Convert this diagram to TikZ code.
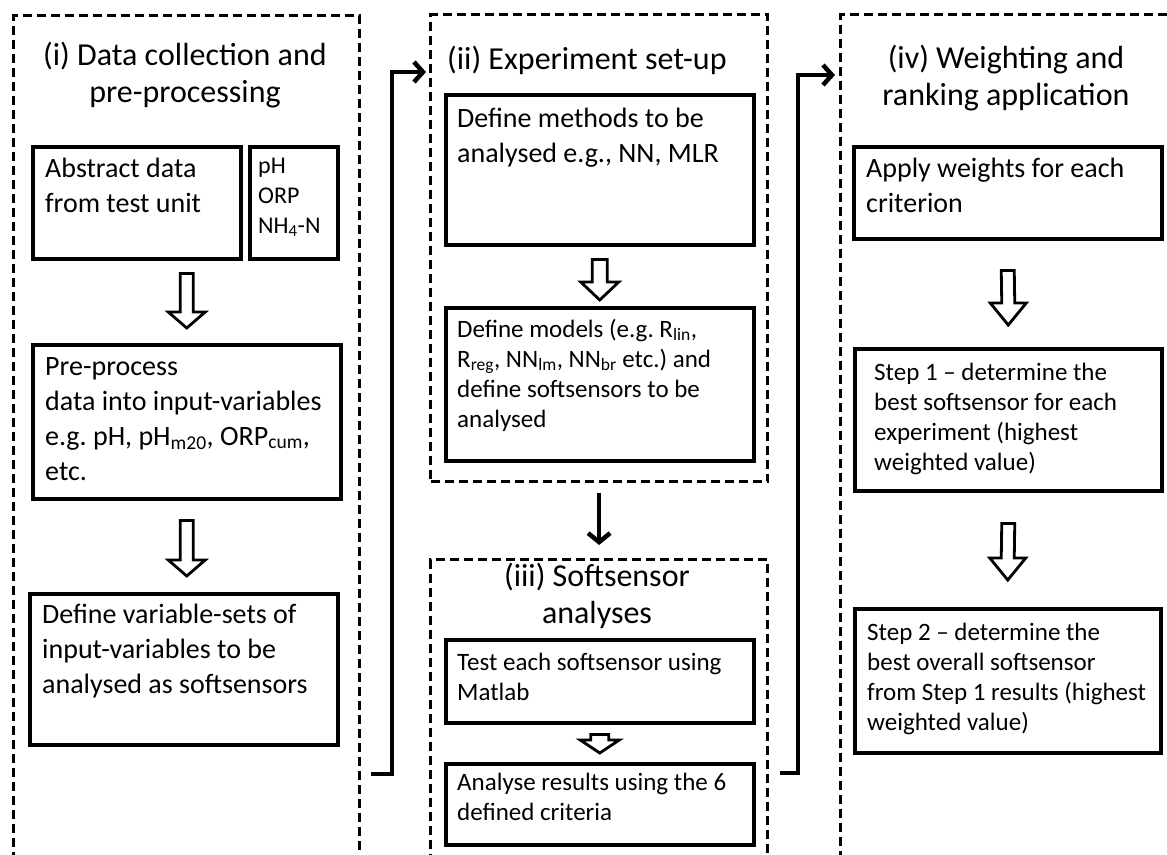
\documentclass[tikz,border=0pt]{standalone}
\usepackage{fontspec}
\setmainfont{Carlito}
\usetikzlibrary{arrows.meta,calc}
\frenchspacing
\newcommand\tl[1]{\parbox[t]{360pt}{\raggedright #1}}
\newcommand\tc[1]{\parbox[t]{360pt}{\centering #1}}
\newcommand\sub[1]{\textsubscript{#1}}
% hollow block arrow: #1 top centre, #2 tip, #3 half shaft, #4 half head, #5 head length
\newcommand\harrow[5]{%
  \draw[hollow] ([xshift=-#3pt]#1) -- ([xshift=#3pt]#1) -- ([xshift=#3pt,yshift=#5pt]#2)
    -- ([xshift=#4pt,yshift=#5pt]#2) -- (#2) -- ([xshift=-#4pt,yshift=#5pt]#2)
    -- ([xshift=-#3pt,yshift=#5pt]#2) -- cycle;}
\begin{document}
\begin{tikzpicture}[x=1pt,y=-1pt,
  grp/.style={draw, line width=3.2pt, dash pattern=on 9pt off 5pt, anchor=north west, inner sep=0pt},
  stepbox/.style={draw, line width=3.5pt, anchor=north west, inner sep=0pt},
  ttl/.style={anchor=base, inner sep=0pt, font=\fontsize{32}{37}\selectfont},
  ttll/.style={anchor=base west, inner sep=0pt, font=\fontsize{32}{37}\selectfont},
  body/.style={anchor=base west, inner sep=0pt, font=\fontsize{28}{35}\selectfont},
  small/.style={anchor=base west, inner sep=0pt, font=\fontsize{25}{30}\selectfont},
  phs/.style={anchor=base west, inner sep=0pt, font=\fontsize{24}{30}\selectfont},
  hollow/.style={draw, line width=2.8pt, line join=miter, fill=white},
  conn/.style={line width=4.5pt, -{Straight Barb[length=9pt,width=20pt]}},
]
\clip (0,0) rectangle (1167,854);
\fill[white] (0,0) rectangle (1167,854);

% group frames
\node[grp, minimum width=346pt, minimum height=880pt] (gi) at (12,14) {};
\node[grp, minimum width=337pt, minimum height=467pt] (gii) at (429,13) {};
\node[grp, minimum width=337pt, minimum height=320pt] (giii) at (429,558) {};
\node[grp, minimum width=360pt, minimum height=880pt] (giv) at (839,13) {};

% titles
\node[ttl] (ti) at (185,65) {\tc{(i) Data collection and\\pre-processing}};
\node[ttll] (tii) at (447,69) {(ii) Experiment set-up};
\node[ttl] (tiii) at (597,586) {\tc{(iii) Softsensor\\analyses}};
\node[ttl] (tiv) at (1006,68) {\tc{(iv) Weighting and\\ranking application}};

% boxes
\node[stepbox, minimum width=208pt, minimum height=112pt] (abs) at (31,145) {};
\node[stepbox, minimum width=88pt, minimum height=112pt] (ph) at (248,145) {};
\node[stepbox, minimum width=308pt, minimum height=154pt] (pre) at (31,343) {};
\node[stepbox, minimum width=308pt, minimum height=151pt] (def) at (28,592) {};
\node[stepbox, minimum width=308pt, minimum height=150pt] (meth) at (444,93) {};
\node[stepbox, minimum width=308pt, minimum height=153pt] (mod) at (444,306) {};
\node[stepbox, minimum width=308pt, minimum height=83pt] (test) at (444,638) {};
\node[stepbox, minimum width=308pt, minimum height=81pt] (anal) at (444,762) {};
\node[stepbox, minimum width=308pt, minimum height=92pt] (appl) at (852,145) {};
\node[stepbox, minimum width=307pt, minimum height=142pt] (sa) at (853,347) {};
\node[stepbox, minimum width=306pt, minimum height=144pt] (sb) at (853,607) {};

% texts
\node[body] (abs-t) at (45,177) {\tl{Abstract data\\from test unit}};
\node[phs] (ph-t) at (258,173) {\tl{pH\\ORP\\NH\sub{4}-N}};
\node[body] (pre-t) at (45,375) {\tl{Pre-process\\data into input-variables\\e.g. pH, pH\sub{m20}, ORP\sub{cum},\\etc.}};
\node[body] (def-t) at (42,623) {\tl{Define variable-sets of\\input-variables to be\\analysed as softsensors}};
\node[body] (meth-t) at (457,127) {\tl{Define methods to be\\analysed e.g., NN, MLR}};
\node[small] (mod-t) at (457,337) {\tl{Define models (e.g. R\sub{lin},\\R\sub{reg}, NN\sub{lm}, NN\sub{br} etc.) and\\define softsensors to be\\analysed}};
\node[small] (test-t) at (457,670) {\tl{Test each softsensor using\\Matlab}};
\node[small] (anal-t) at (457,790) {\tl{Analyse results using the 6\\defined criteria}};
\node[body] (appl-t) at (866,177) {\tl{Apply weights for each\\criterion}};
\node[small] (sa-t) at (874,380) {\tl{Step 1 – determine the\\best softsensor for each\\experiment (highest\\weighted value)}};
\node[small] (sb-t) at (867,640) {\tl{Step 2 – determine the\\best overall softsensor\\from Step 1 results (highest\\weighted value)}};

% hollow arrows
\coordinate (a1s) at ($(abs.south -| pre.north)+(0,13)$);
\coordinate (a1e) at ($(pre.north)+(0,-15)$);
\harrow{a1s}{a1e}{6.5}{18.5}{16}
\coordinate (a2s) at ($(pre.south)+(0,20)$);
\coordinate (a2e) at ($(def.north -| pre.south)+(0,-16)$);
\harrow{a2s}{a2e}{6.5}{18.5}{16}
\coordinate (a3s) at ($(meth.south)+(0,13)$);
\coordinate (a3e) at ($(mod.north)+(0,-6)$);
\harrow{a3s}{a3e}{7.5}{19}{18}
\coordinate (a4s) at ($(test.south)+(0,10)$);
\coordinate (a4e) at ($(anal.north)+(0,-9)$);
\harrow{a4s}{a4e}{9}{19.5}{13}
\coordinate (a5s) at ($(appl.south)+(0,30)$);
\coordinate (a5e) at ($(sa.north)+(0,-22)$);
\harrow{a5s}{a5e}{6.5}{18}{22}
\coordinate (a6s) at ($(sa.south)+(0,31)$);
\coordinate (a6e) at ($(sb.north)+(0,-27)$);
\harrow{a6s}{a6e}{6.5}{18}{22}

% connectors
\coordinate (c1s) at ($(gi.north east)+(10,760)$);
\draw[conn] (c1s) -- ++(21,0) |- ($(gii.north west)+(-3,59)$);
\coordinate (c2s) at ($(gii.north east)+(11,760)$);
\draw[conn] (c2s) -- ++(18,0) |- ($(giv.north west)+(-4,62)$);
\draw[line width=4.5pt, -{Straight Barb[length=9pt,width=22pt]}] ($(gii.south)+(0,10)$) -- ($(giii.north)+(0,-13)$);
\end{tikzpicture}
\end{document}
